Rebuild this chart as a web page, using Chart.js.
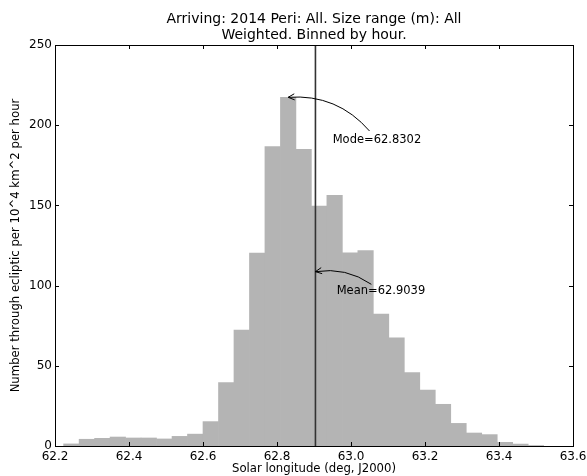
<!DOCTYPE html>
<html>
<head>
<meta charset="utf-8">
<script src="https://cdn.jsdelivr.net/npm/chart.js@4.4.1/dist/chart.umd.min.js"></script>
<style>
  body { margin: 0; background: #fff; }
  canvas { display: block; }
</style>
</head>
<body>
<canvas id="histChart" width="587" height="476"></canvas>
<script>
// bin centres (deg, J2000), one bin per hour
const binCenters = [
    62.2442, 62.2861, 62.3279, 62.3698, 62.4116, 62.4535, 62.4953, 62.5372,
    62.5790, 62.6209, 62.6628, 62.7046, 62.7465, 62.7883, 62.8302, 62.8720,
    62.9139, 62.9557, 62.9976, 63.0394, 63.0813, 63.1232, 63.1650, 63.2069,
    63.2487, 63.2906, 63.3324, 63.3743, 63.4161, 63.4580, 63.4998
];
// weighted counts per bin
const binCounts = [
    1.3, 4.2, 4.8, 5.6, 5.0, 5.0, 4.4, 6.0,
    7.4, 15.2, 39.5, 72.3, 120.3, 186.6, 217.4, 185.0,
    149.6, 156.3, 120.5, 121.8, 82.2, 67.5, 45.7, 34.9,
    26.0, 14.1, 8.1, 7.1, 2.3, 1.2, 0.3
];
const xTicks = [62.2, 62.4, 62.6, 62.8, 63.0, 63.2, 63.4, 63.6];
const yTicks = [0, 50, 100, 150, 200, 250];

const modeLon = 62.8302;
const meanLon = 62.9039;

// annotations: arrow tip, arrow start, label anchor (data coords)
const notes = [
    { text: "Mode=62.8302", tip: [modeLon, 217.4], from: [63.05, 196.4], label: [62.9505, 190.8], rad: 0.25 },
    { text: "Mean=62.9039", tip: [meanLon, 108.7], from: [63.055, 100.8], label: [62.9613, 96.6], rad: 0.2 }
];

const FONT = "DejaVu Sans";

/* inside ticks + frame */
const frameTicks = {
    id: "frameTicks",
    afterDraw(chart) {
        const { ctx, chartArea: a, scales } = chart;
        ctx.save();
        ctx.strokeStyle = "#000";
        ctx.lineWidth = 1;
        const len = 4;
        ctx.beginPath();
        xTicks.forEach(v => {
            const x = Math.round(scales.x.getPixelForValue(v)) + 0.5;
            ctx.moveTo(x, a.bottom); ctx.lineTo(x, a.bottom - len);
            ctx.moveTo(x, a.top); ctx.lineTo(x, a.top + len);
        });
        yTicks.forEach(v => {
            const y = Math.round(scales.y.getPixelForValue(v)) + 0.5;
            ctx.moveTo(a.left, y); ctx.lineTo(a.left + len, y);
            ctx.moveTo(a.right, y); ctx.lineTo(a.right - len, y);
        });
        ctx.stroke();
        ctx.strokeRect(Math.round(a.left) + 0.5, Math.round(a.top) + 0.5,
            Math.round(a.right - a.left), Math.round(a.bottom - a.top));
        ctx.restore();
    }
};

/* curved arrows with labels */
const arrowNotes = {
    id: "arrowNotes",
    afterDatasetsDraw(chart) {
        const { ctx, scales } = chart;
        const px = p => [scales.x.getPixelForValue(p[0]), scales.y.getPixelForValue(p[1])];
        ctx.save();
        notes.forEach(n => {
            const [x0, y0] = px(n.from);
            const [x2, y2] = px(n.tip);
            const dx = x2 - x0, dy = y2 - y0;
            const cx = (x0 + x2) / 2 - n.rad * dy;
            const cy = (y0 + y2) / 2 + n.rad * dx;
            ctx.strokeStyle = "#000";
            ctx.lineWidth = 1;
            ctx.beginPath();
            ctx.moveTo(x0, y0);
            ctx.quadraticCurveTo(cx, cy, x2, y2);
            ctx.stroke();
            // open arrow head
            const ang = Math.atan2(y2 - cy, x2 - cx);
            const hl = 7, spread = 0.45;
            ctx.beginPath();
            ctx.moveTo(x2 - hl * Math.cos(ang - spread), y2 - hl * Math.sin(ang - spread));
            ctx.lineTo(x2, y2);
            ctx.lineTo(x2 - hl * Math.cos(ang + spread), y2 - hl * Math.sin(ang + spread));
            ctx.stroke();

            const [lx, ly] = px(n.label);
            ctx.fillStyle = "#000";
            ctx.font = "11.5px '" + FONT + "'";
            ctx.textAlign = "left";
            ctx.textBaseline = "middle";
            ctx.fillText(n.text, lx, ly);
        });
        ctx.restore();
    }
};

new Chart(document.getElementById("histChart"), {
    data: {
        datasets: [
            {
                type: "bar",
                data: binCenters.map((c, i) => ({ x: c, y: binCounts[i] })),
                backgroundColor: "#b4b4b4",
                borderWidth: 0,
                barPercentage: 1,
                categoryPercentage: 1,
                order: 2
            },
            {
                type: "line",
                data: [{ x: meanLon, y: 0 }, { x: meanLon, y: 250 }],
                borderColor: "#333",
                borderWidth: 1.6,
                pointRadius: 0,
                order: 1
            }
        ]
    },
    options: {
        responsive: false,
        animation: false,
        layout: { padding: { right: 14 } },
        plugins: {
            legend: { display: false },
            tooltip: { enabled: false },
            title: {
                display: true,
                fullSize: false, // centre over the plot area, like matplotlib
                text: ["Arriving: 2014 Peri: All. Size range (m): All", "Weighted. Binned by hour."],
                color: "#000",
                font: { family: FONT, size: 14, weight: "normal", lineHeight: 1.143 },
                padding: { top: 11.5, bottom: 1.5 }
            }
        },
        scales: {
            x: {
                type: "linear",
                min: 62.2,
                max: 63.6,
                offset: false,
                afterFit: s => { s.height = 30; s.paddingLeft = 0; s.paddingRight = 0; },
                afterBuildTicks: s => { s.ticks = xTicks.map(v => ({ value: v })); },
                grid: { display: false, drawTicks: false, offset: false },
                border: { display: false },
                ticks: {
                    color: "#000",
                    padding: 4,
                    maxRotation: 0,
                    autoSkip: false,
                    font: { family: FONT, size: 12 },
                    callback: v => Number(v).toFixed(1)
                },
                title: {
                    display: true,
                    text: "Solar longitude (deg, J2000)",
                    color: "#000",
                    font: { family: FONT, size: 11.7 },
                    padding: { top: 0, bottom: 0 }
                }
            },
            y: {
                min: 0,
                max: 250,
                afterFit: s => { s.width = 55; },
                afterBuildTicks: s => { s.ticks = yTicks.map(v => ({ value: v })); },
                grid: { display: false, drawTicks: false },
                border: { display: false },
                ticks: {
                    color: "#000",
                    padding: 3,
                    font: { family: FONT, size: 12 }
                },
                title: {
                    display: true,
                    text: "Number through ecliptic per 10^4 km^2 per hour",
                    color: "#000",
                    font: { family: FONT, size: 11.7 },
                    padding: { top: 9, bottom: 0 }
                }
            }
        }
    },
    plugins: [frameTicks, arrowNotes]
});
</script>
</body>
</html>
